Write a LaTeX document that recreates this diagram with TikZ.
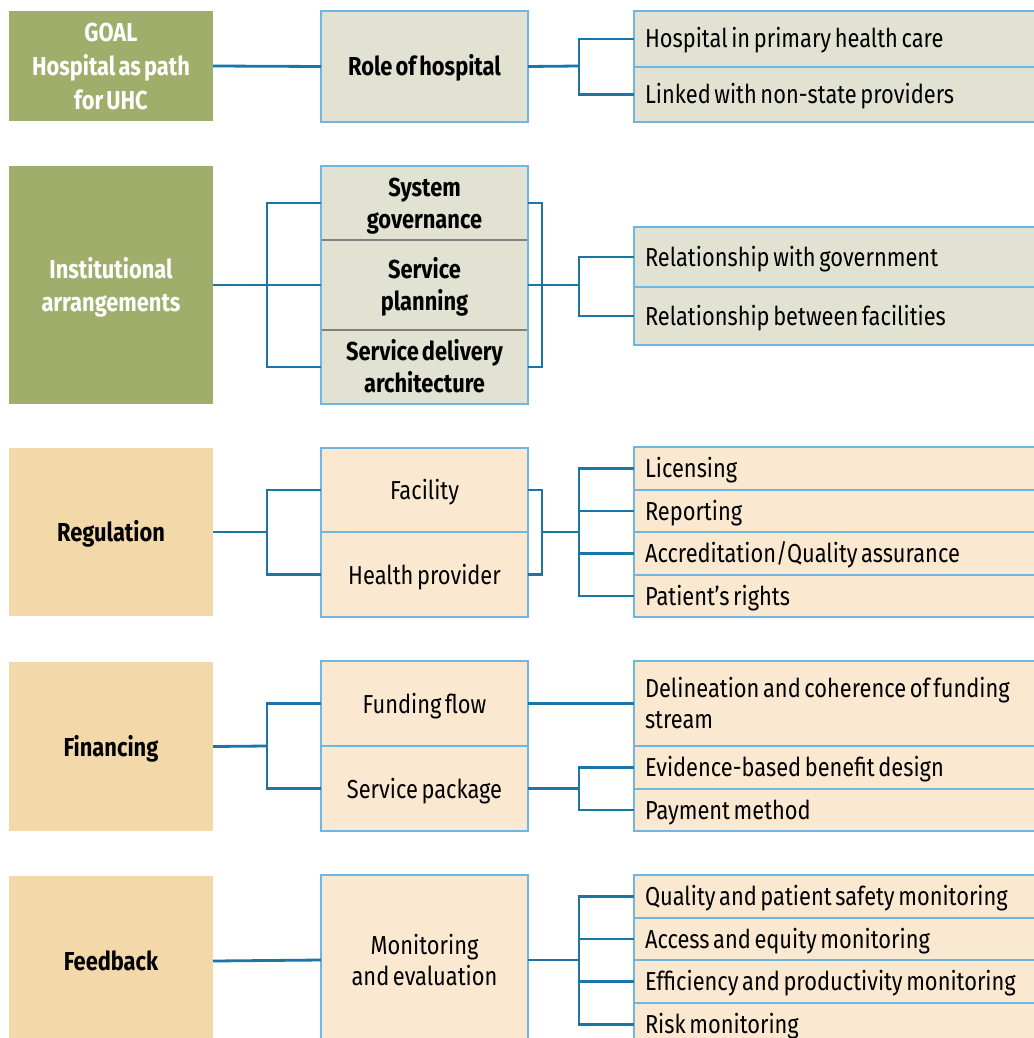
\documentclass[tikz,border=0pt]{standalone}
\usepackage{fontspec}
\setmainfont{Fira Sans}[FakeStretch=0.84, WordSpace=0.62]
\AtBeginDocument{\hyphenpenalty=10000 \exhyphenpenalty=10000}
\definecolor{goalgreen}{HTML}{9FAF6B}
\definecolor{lightgreen}{HTML}{E2E2D2}
\definecolor{darktan}{HTML}{F3D9A9}
\definecolor{lighttan}{HTML}{FAE8D0}
\definecolor{conn}{HTML}{1A75A8}
\definecolor{bord}{HTML}{6FB6E0}
\tikzset{
  base/.style={inner sep=0pt, outer sep=0pt, align=center, font=\fontsize{26}{32}\selectfont, text height=22pt, text depth=3pt},
  twol/.style={text height=54pt},
  leftg/.style={base, fill=goalgreen, text=white, font=\fontsize{26}{33}\selectfont\bfseries, minimum width=204},
  leftt/.style={base, fill=darktan, font=\fontsize{26}{32}\selectfont\bfseries, minimum width=204},
  midg/.style={base, fill=lightgreen, draw=bord, line width=1.2pt, font=\fontsize{26}{32}\selectfont\bfseries, minimum width=207},
  midt/.style={base, fill=lighttan, draw=bord, line width=1.2pt, minimum width=207},
  rightbox/.style={base, draw=bord, line width=1.2pt, align=flush left, text width=386, inner xsep=11pt, anchor=west, text height=21.5pt, text depth=3.5pt},
  rg/.style={rightbox, fill=lightgreen},
  rt/.style={rightbox, fill=lighttan},
  link/.style={draw=conn, line width=2.8pt}
}
\begin{document}
\begin{tikzpicture}[x=1pt,y=-1pt]
\useasboundingbox (0,0) rectangle (1033,1038);
\fill[white] (0,0) rectangle (1033,1038);

% Row 1
\node[leftg, font=\fontsize{26}{34}\selectfont\bfseries, text height=90pt, minimum height=110] (goal) at (111,66) {GOAL\\Hospital as path\\for UHC};
\node[midg, minimum height=111] (role) at (424.5,66.5) {Role of hospital};
\node[rg, minimum height=56] (r1a) at (634,39) {Hospital in primary health care};
\node[rg, minimum height=55] (r1b) at (634,94.5) {Linked with non-state providers};
\coordinate (j1) at (579,66);
\draw[link] (goal.east) -- (role.west);
\draw[link] (role.east) -- (j1);
\draw[link] (r1a.west) -| (j1) |- (r1b.west);

% Row 2
\node[leftg, text height=55pt, minimum height=238] (inst) at (111,285) {Institutional\\arrangements};
\node[midg, twol, draw=gray, minimum height=74] (sg) at (424.5,203) {System\\governance};
\node[midg, twol, draw=gray, minimum height=90] (sp) at (424.5,285) {Service\\planning};
\node[midg, twol, draw=gray, minimum height=74] (sd) at (424.5,367) {Service delivery\\architecture};
\draw[bord, line width=1.2pt] (sg.north west) rectangle (sd.south east);
\node[rg, minimum height=60] (r2a) at (634,257) {Relationship with government};
\node[rg, minimum height=58] (r2b) at (634,316) {Relationship between facilities};
\coordinate (j2) at (267,285);
\coordinate (k2) at (542,285);
\coordinate (m2) at (579,285);
\draw[link] (inst.east) -- (sp.west);
\draw[link] (sg.west) -| (j2) |- (sd.west);
\draw[link] (sg.east) -| (k2) |- (sd.east);
\draw[link] (sp.east) -- (m2);
\draw[link] (r2a.west) -| (m2) |- (r2b.west);

% Row 3
\node[leftt, minimum height=168] (reg) at (111,532) {Regulation};
\node[midt, minimum height=84] (fac) at (424.5,490) {Facility};
\node[midt, minimum height=85] (hp) at (424.5,574.5) {Health provider};
\node[rt, minimum height=43] (r3a) at (634,468.5) {Licensing};
\node[rt, minimum height=42] (r3b) at (634,511) {Reporting};
\node[rt, minimum height=43] (r3c) at (634,553.5) {Accreditation/Quality assurance};
\node[rt, minimum height=42] (r3d) at (634,596) {Patient’s rights};
\coordinate (j3) at (267,532);
\coordinate (k3) at (542,532);
\coordinate (m3) at (579,532);
\draw[link] (reg.east) -- (j3);
\draw[link] (fac.west) -| (j3) |- (hp.west);
\draw[link] (fac.east) -| (k3) |- (hp.east);
\draw[link] (k3) -- (m3);
\draw[link] (r3a.west) -| (m3) |- (r3d.west);
\draw[link] (m3 |- r3b.west) -- (r3b.west);
\draw[link] (m3 |- r3c.west) -- (r3c.west);

% Row 4
\node[leftt, minimum height=169] (fin) at (111,746.5) {Financing};
\node[midt, minimum height=85] (ff) at (424.5,703.5) {Funding flow};
\node[midt, minimum height=85] (spk) at (424.5,788.5) {Service package};
\node[rt, font=\fontsize{26}{31}\selectfont, minimum height=85, text depth=34.5pt] (r4a) at (634,703.5) {Delineation and coherence of funding\\stream};
\node[rt, minimum height=43] (r4b) at (634,767.5) {Evidence-based benefit design};
\node[rt, minimum height=42] (r4c) at (634,810) {Payment method};
\coordinate (j4) at (267,746);
\coordinate (m4) at (579,788.5);
\draw[link] (fin.east) -- (j4);
\draw[link] (ff.west) -| (j4) |- (spk.west);
\draw[link] (ff.east) -- (r4a.west);
\draw[link] (spk.east) -- (m4);
\draw[link] (r4b.west) -| (m4) |- (r4c.west);

% Row 5
\node[leftt, minimum height=170] (fb) at (111,961) {Feedback};
\node[midt, font=\fontsize{26}{31}\selectfont, text height=53pt, minimum height=170] (me) at (424.5,960) {Monitoring\\and evaluation};
\node[rt, minimum height=43] (r5a) at (634,896.5) {Quality and patient safety monitoring};
\node[rt, minimum height=42] (r5b) at (634,939) {Access and equity monitoring};
\node[rt, minimum height=43] (r5c) at (634,981.5) {Efficiency and productivity monitoring};
\node[rt, minimum height=43] (r5d) at (634,1024.5) {Risk monitoring};
\coordinate (m5) at (579,960);
\draw[link] (fb.east) -- (me.west);
\draw[link] (me.east) -- (m5);
\draw[link] (r5a.west) -| (m5) |- (r5d.west);
\draw[link] (m5 |- r5b.west) -- (r5b.west);
\draw[link] (m5 |- r5c.west) -- (r5c.west);
\end{tikzpicture}
\end{document}
